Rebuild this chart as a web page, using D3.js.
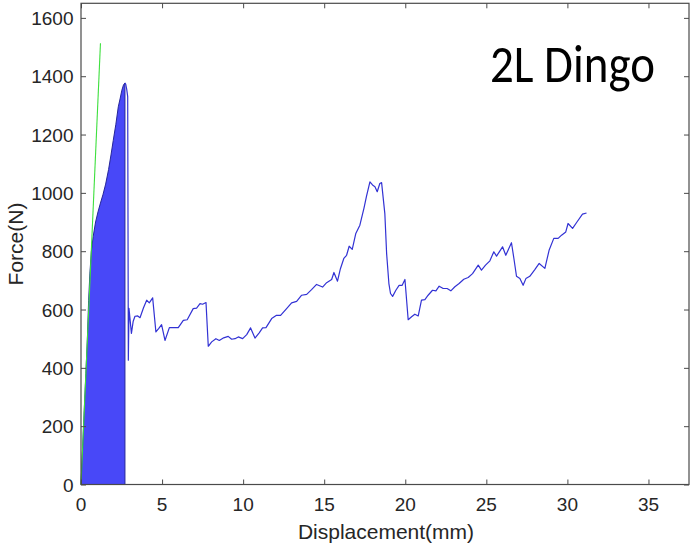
<!DOCTYPE html>
<html><head><meta charset="utf-8">
<script src="https://cdn.jsdelivr.net/npm/d3@7"></script>
<style>body{margin:0;background:#fff}svg{display:block}</style>
</head><body>
<script>
const xTicks = [0,5,10,15,20,25,30,35];
const yTicks = [0,200,400,600,800,1000,1200,1400,1600];
const xLabel = "Displacement(mm)";
const yLabel = "Force(N)";
const title = "2L Dingo";
// filled loading portion up to the peak
const fillDisp  = [0,0.1,0.2,0.3,0.39,0.47,0.55,0.64,0.75,0.9,1.05,1.2,1.36,1.52,1.7,1.85,1.99,2.15,2.3,2.42,2.52,2.62,2.71];
const fillForce = [0,125,255,380,495,630,725,800,850,900,935,965,995,1030,1080,1130,1180,1235,1295,1325,1352,1370,1377];
// post-peak curve
const lineDisp = [2.71,2.76,2.82,2.88,2.92,2.96,3.11,3.22,3.33,3.5,3.64,3.85,4.05,4.21,4.42,4.62,4.8,4.97,5.18,5.45,5.69,6.0,6.31,6.55,6.92,7.13,7.34,7.5,7.71,7.85,8.06,8.32,8.53,8.8,9.08,9.29,9.5,9.7,9.97,10.22,10.46,10.73,10.99,11.2,11.41,11.76,12.06,12.31,12.68,12.99,13.3,13.61,13.92,14.22,14.53,14.9,15.15,15.46,15.6,15.82,16.0,16.21,16.38,16.54,16.73,16.95,17.2,17.45,17.61,17.82,17.98,18.13,18.27,18.43,18.54,18.74,18.85,18.99,19.09,19.22,19.42,19.62,19.81,19.98,20.18,20.39,20.59,20.8,21.0,21.21,21.41,21.68,21.89,22.09,22.34,22.58,22.81,23.06,23.32,23.61,23.88,24.15,24.5,24.7,24.95,25.22,25.46,25.63,26.0,26.2,26.55,26.7,26.86,27.07,27.27,27.44,27.68,27.99,28.26,28.61,28.87,29.16,29.43,29.64,29.9,30.04,30.32,30.6,30.93,31.18];
const lineForce = [1377,1372,1355,1330,426,604,518,560,577,578,572,605,632,623,640,523,535,548,494,538,538,538,563,565,603,605,620,618,624,474,489,500,494,503,508,498,500,506,500,514,537,502,520,537,538,569,580,580,603,623,628,649,652,668,686,677,692,703,727,697,740,775,786,817,806,861,889,947,989,1038,1027,1021,1004,1032,1035,929,792,689,655,645,666,683,683,703,565,575,584,578,632,634,649,666,664,680,672,672,664,678,689,704,710,723,752,735,752,767,798,783,815,786,829,775,714,706,683,706,714,737,758,741,803,844,844,855,866,895,878,901,927,931];
// elastic (green) reference line
const greenDisp = [0,1.2];
const greenForce = [0,1513];

const W = 692, H = 545;
const L = 81, R = 689, T = 3.3, B = 484.5;
const svg = d3.select("body").append("svg").attr("width",W).attr("height",H);
const x = d3.scaleLinear().domain([0,37.5]).range([L,R]);
const y = d3.scaleLinear().domain([0,1650]).range([B,T]);

const fillData = fillDisp.map((d,i)=>[d,fillForce[i]]);
const lineData = lineDisp.map((d,i)=>[d,lineForce[i]]);
const greenData = greenDisp.map((d,i)=>[d,greenForce[i]]);

svg.append("path").datum(fillData)
  .attr("d", d3.area().x(d=>x(d[0])).y0(y(0)).y1(d=>y(d[1])))
  .attr("fill","#4848f8").attr("stroke","#26269a").attr("stroke-width",1);

svg.append("path").datum(lineData)
  .attr("d", d3.line().x(d=>x(d[0])).y(d=>y(d[1])))
  .attr("fill","none").attr("stroke","#3232d4").attr("stroke-width",1.2).attr("stroke-linejoin","round");

svg.append("path").datum(greenData)
  .attr("d", d3.line().x(d=>x(d[0])).y(d=>y(d[1])))
  .attr("fill","none").attr("stroke","#3ee03e").attr("stroke-width",1.1);

const axColor = "#4a4a4a";
const tl = 5;
const gBottom = svg.append("g").attr("transform",`translate(0,${B})`)
  .call(d3.axisBottom(x).tickValues(xTicks).tickSize(-tl).tickFormat(""));
const gTop = svg.append("g").attr("transform",`translate(0,${T})`)
  .call(d3.axisTop(x).tickValues(xTicks).tickSize(-tl).tickFormat(""));
const gLeft = svg.append("g").attr("transform",`translate(${L},0)`)
  .call(d3.axisLeft(y).tickValues(yTicks).tickSize(-tl).tickFormat(""));
const gRight = svg.append("g").attr("transform",`translate(${R},0)`)
  .call(d3.axisRight(y).tickValues(yTicks).tickSize(-tl).tickFormat(""));
[gBottom,gTop,gLeft,gRight].forEach(g=>{
  g.select("path.domain").remove();
  g.selectAll("line").attr("stroke",axColor).attr("stroke-width",1);
});
svg.append("rect").attr("x",L).attr("y",T).attr("width",R-L).attr("height",B-T)
  .attr("fill","none").attr("stroke",axColor).attr("stroke-width",1.2);

const font = "'Liberation Sans', Arial, sans-serif";
svg.append("g").selectAll("text").data(xTicks).join("text")
  .attr("x",d=>x(d)).attr("y",511).attr("text-anchor","middle")
  .attr("font-family",font).attr("font-size",19).attr("fill","#262626").text(d=>d);
svg.append("g").selectAll("text").data(yTicks).join("text")
  .attr("x",73.5).attr("y",d=>y(d)+7).attr("text-anchor","end")
  .attr("font-family",font).attr("font-size",19).attr("fill","#262626").text(d=>d);

svg.append("text").attr("x",386).attr("y",539).attr("text-anchor","middle")
  .attr("font-family",font).attr("font-size",21).attr("fill","#262626").text(xLabel);
svg.append("text").attr("transform","translate(23,244) rotate(-90)").attr("text-anchor","middle")
  .attr("font-family",font).attr("font-size",21).attr("fill","#262626").text(yLabel);

const tt = svg.append("text").attr("x",0).attr("y",0).attr("font-family","Carlito, Lato, 'Open Sans', sans-serif")
  .attr("font-size",54).attr("fill","#000").text(title);
const tw = tt.node().getComputedTextLength();
tt.attr("transform",`translate(490,82) scale(${165/tw},1)`);
</script>
</body></html>
